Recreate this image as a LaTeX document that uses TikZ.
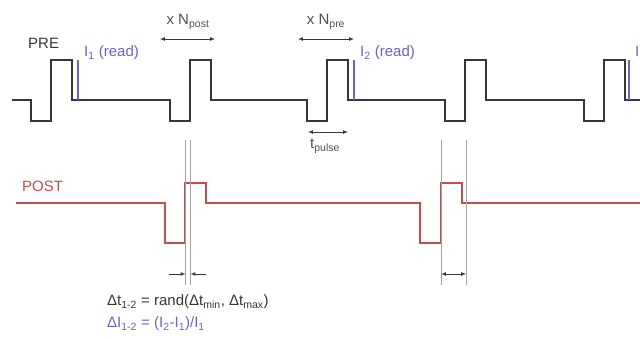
\documentclass[tikz,border=0pt]{standalone}
\usepackage{fontspec}
\setmainfont{Liberation Sans}
\usetikzlibrary{arrows, positioning, calc}
\definecolor{waveblack}{RGB}{55,55,55}
\definecolor{labelgray}{RGB}{80,80,80}
\definecolor{postred}{RGB}{196,78,78}
\definecolor{readblue}{RGB}{112,96,206}
\definecolor{guidegray}{RGB}{165,165,165}

\begin{document}
\begin{tikzpicture}[x=1pt, y=-1pt, >=latex,
    wave/.style={line width=1.8pt, line join=miter},
    readline/.style={readblue, line width=1.3pt},
    guide/.style={guidegray, line width=0.8pt},
    dimarrow/.style={waveblack, line width=0.7pt},
    lbl/.style={inner sep=0pt, font=\fontsize{15}{17}\selectfont}]
    \clip (0,0) rectangle (640,338);

    % PRE waveform
    \draw[wave, waveblack] (12,100)
        \foreach \s in {31,170,307,445,584} {
            -- (\s,100) -- (\s,121) -- ({\s+20},121) -- ({\s+20},60) -- ({\s+41},60) -- ({\s+41},100)
        } -- (640,100);
    \node[lbl, waveblack, anchor=west] (pre) at (28,43) {PRE};

    % read points
    \foreach \x/\n in {78/1,354/2,629/3} {
        \draw[readline] (\x,60) -- (\x,100);
        \node[lbl, readblue, anchor=west] (read\n) at (\x+6,53) {I\textsubscript{\n} (read)};
    }

    % repetitions
    \node[lbl, labelgray] (npost) at (188,22) {x N\textsubscript{post}};
    \coordinate (npostL) at (160,39);
    \coordinate (npostR) at (215,39);
    \draw[dimarrow, <->] (npostL) -- (npostR);
    \node[lbl, labelgray] (npre) at (326,22) {x N\textsubscript{pre}};
    \coordinate (npreL) at (298,39);
    \coordinate (npreR) at (354,39);
    \draw[dimarrow, <->] (npreL) -- (npreR);

    % pulse width
    \coordinate (tpL) at (308,132);
    \coordinate (tpR) at (348,132);
    \draw[dimarrow, <->] (tpL) -- (tpR);
    \node[lbl, labelgray, anchor=west] (tpulse) at (310,146) {t\textsubscript{pulse}};

    % POST waveform
    \draw[wave, postred] (16,203) -- (165,203) -- (165,243) -- (185,243) -- (185,183)
        -- (206,183) -- (206,203) -- (420,203) -- (420,243) -- (441,243) -- (441,183)
        -- (462,183) -- (462,203) -- (640,203);
    \node[lbl, postred, anchor=west] (post) at (22,186) {POST};

    % timing offsets
    \foreach \x in {185.5,190.5,441,466}
        \draw[guide] (\x,140) -- (\x,285);
    \coordinate (dtaL) at (169,274);
    \coordinate (dtaM) at (185.5,274);
    \coordinate (dtaN) at (190.5,274);
    \coordinate (dtaR) at (206,274);
    \draw[dimarrow, ->] (dtaL) -- (dtaM);
    \draw[dimarrow, ->] (dtaR) -- (dtaN);
    \coordinate (dtbL) at (441,274);
    \coordinate (dtbR) at (466,274);
    \draw[dimarrow, <->] (dtbL) -- (dtbR);

    % formulas
    \node[lbl, waveblack, anchor=west] (dt) at (107,302)
        {Δt\textsubscript{1-2} = rand(Δt\textsubscript{min}, Δt\textsubscript{max})};
    \node[lbl, readblue, anchor=west] (dI) at (107,324)
        {ΔI\textsubscript{1-2} = (I\textsubscript{2}-I\textsubscript{1})/I\textsubscript{1}};
\end{tikzpicture}
\end{document}
